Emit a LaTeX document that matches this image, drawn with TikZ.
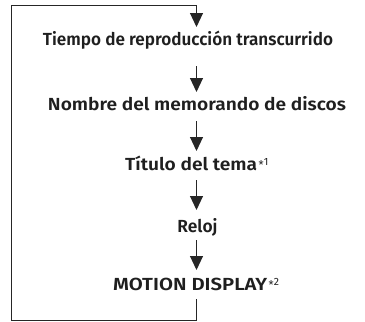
\documentclass[tikz,border=0pt]{standalone}
\usepackage{fontspec}
\usepackage{graphicx}
\setmainfont{Fira Sans}[BoldFont={Fira Sans SemiBold}]
\newfontfamily\supfont{Liberation Sans}
\usetikzlibrary{arrows.meta}
\newcommand{\fitw}[2]{\resizebox{#1}{\height}{#2}}
\newcommand{\supmark}[1]{\hspace{1.5pt}{\supfont\fontsize{13}{14}\selectfont\mdseries\raisebox{1.6pt}{*}}\raisebox{5.4pt}{\fontsize{10.5}{12}\selectfont\mdseries #1}}
\begin{document}
\begin{tikzpicture}[x=1pt,y=-1pt,
  lbl/.style={font=\fontsize{17.5}{20}\selectfont\bfseries, inner sep=0pt, text=black!88, anchor=base},
  conn/.style={line width=1.1pt, draw=black!85},
  arr/.style={conn, -{Triangle[width=13pt,length=14pt]}}]
\useasboundingbox (0,0) rectangle (365,322);
\coordinate (top) at (196.5,5.5);
\coordinate (tl) at (11.7,5.5);
\coordinate (bl) at (11.7,320.5);
\coordinate (br) at (196.5,320.5);
\node[lbl] (n1) at (188,45.7) {\fitw{290pt}{Tiempo de reproducción transcurrido}};
\node[lbl] (n2) at (197,110.7) {\fitw{298pt}{Nombre del memorando de discos}};
\node[lbl, anchor=base west] (n3) at (125,170.7) {\fitw{132pt}{Título del tema}\supmark{1}};
\node[lbl] (n4) at (197.5,232) {\fitw{40pt}{Reloj}};
\node[lbl, anchor=base west] (n5) at (113,290.7) {\fitw{154pt}{MOTION DISPLAY}\supmark{2}};
\coordinate (a1) at (196.5,27);
\coordinate (s2) at (196.5,66);
\coordinate (a2) at (196.5,92);
\coordinate (s3) at (196.5,121);
\coordinate (a3) at (196.5,151);
\coordinate (s4) at (196.5,180);
\coordinate (a4) at (196.5,210);
\coordinate (s5) at (196.5,240);
\coordinate (a5) at (196.5,270);
\coordinate (s6) at (196.5,299);
\draw[conn] (br) -- (bl) -- (tl) -- (top);
\draw[arr] (top) -- (a1);
\draw[arr] (s2) -- (a2);
\draw[arr] (s3) -- (a3);
\draw[arr] (s4) -- (a4);
\draw[arr] (s5) -- (a5);
\draw[conn] (s6) -- (br);
\end{tikzpicture}
\end{document}
